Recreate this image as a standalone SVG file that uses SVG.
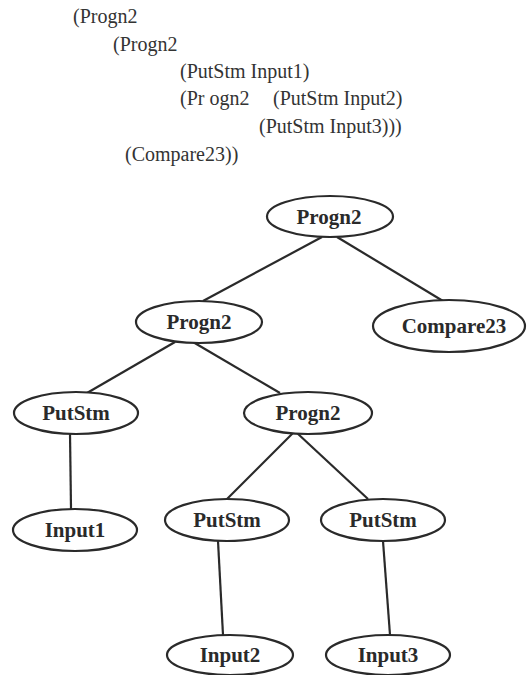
<svg xmlns="http://www.w3.org/2000/svg" width="528" height="675" viewBox="0 0 528 675">
<style>
.code{font-family:"Liberation Serif","Times New Roman",serif;font-size:20px;fill:#333}
.lbl{font-family:"Liberation Serif","Times New Roman",serif;font-size:21px;font-weight:bold;fill:#2a2a2a;text-anchor:middle}
ellipse{fill:#fff;stroke:#2a2a2a;stroke-width:2.2}
.edges line{stroke:#2a2a2a;stroke-width:2.2}
</style>
<rect width="528" height="675" fill="#fff"/>
<g id="code">
<text class="code" x="73" y="23">(Progn2</text>
<text class="code" x="113" y="51">(Progn2</text>
<text class="code" x="180" y="78">(PutStm Input1)</text>
<text class="code" x="180" y="105">(Pr ogn2</text>
<text class="code" x="273" y="105">(PutStm Input2)</text>
<text class="code" x="259" y="133">(PutStm Input3)))</text>
<text class="code" x="125" y="161">(Compare23))</text>
</g>
<g class="edges" id="connectors">
<line x1="322" y1="237" x2="203" y2="301"/>
<line x1="337" y1="237" x2="443" y2="301"/>
<line x1="175" y1="342" x2="87" y2="393"/>
<line x1="193" y1="342" x2="280" y2="393"/>
<line x1="70" y1="433" x2="71" y2="509"/>
<line x1="293" y1="433" x2="227" y2="499"/>
<line x1="297" y1="433" x2="368" y2="499"/>
<line x1="218" y1="541" x2="223" y2="635"/>
<line x1="383" y1="541" x2="390" y2="635"/>
</g>
<g id="n-root"><ellipse cx="330" cy="216.5" rx="63" ry="20.5"/><text class="lbl" x="329" y="224">Progn2</text></g>
<g id="n-progn2a"><ellipse cx="199" cy="322" rx="63" ry="21"/><text class="lbl" x="199" y="329">Progn2</text></g>
<g id="n-compare23"><ellipse cx="449" cy="326" rx="76" ry="26"/><text class="lbl" x="454" y="333">Compare23</text></g>
<g id="n-putstm1"><ellipse cx="76" cy="413" rx="62" ry="21"/><text class="lbl" x="76" y="420">PutStm</text></g>
<g id="n-progn2b"><ellipse cx="308" cy="413" rx="64" ry="21"/><text class="lbl" x="308" y="420">Progn2</text></g>
<g id="n-input1"><ellipse cx="75" cy="530" rx="62" ry="21"/><text class="lbl" x="75" y="537">Input1</text></g>
<g id="n-putstm2"><ellipse cx="227" cy="520" rx="62" ry="21"/><text class="lbl" x="227" y="527">PutStm</text></g>
<g id="n-putstm3"><ellipse cx="383" cy="520" rx="62" ry="21"/><text class="lbl" x="383" y="527">PutStm</text></g>
<g id="n-input2"><ellipse cx="230" cy="655" rx="63" ry="20"/><text class="lbl" x="230" y="662">Input2</text></g>
<g id="n-input3"><ellipse cx="388" cy="655" rx="62" ry="20"/><text class="lbl" x="388" y="662">Input3</text></g>
</svg>
